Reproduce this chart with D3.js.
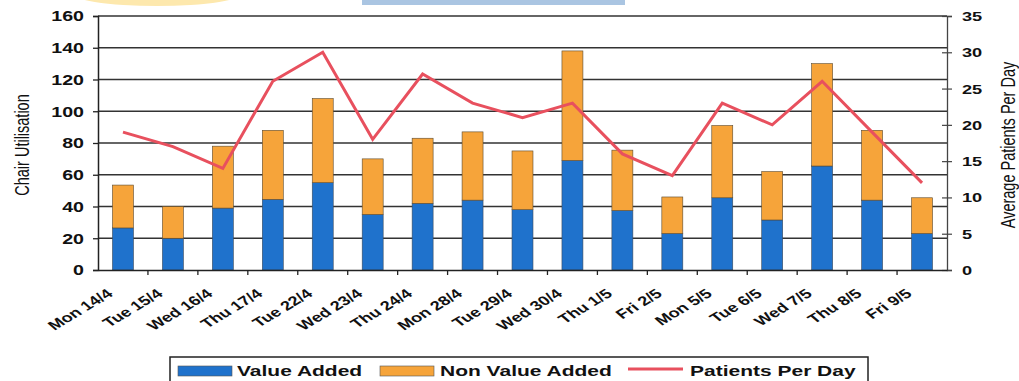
<!DOCTYPE html>
<html>
<head>
<meta charset="utf-8">
<script src="https://cdn.jsdelivr.net/npm/d3@7"></script>
<style>
  body { margin: 0; background: #fff; }
  svg { display: block; }
  text { font-family: "Liberation Sans", Arial, sans-serif; fill: #111; }
</style>
</head>
<body>
<div id="chart"></div>
<script type="text/javascript">
// categories and series
var days = ["Mon 14/4", "Tue 15/4", "Wed 16/4", "Thu 17/4", "Tue 22/4", "Wed 23/4",
            "Thu 24/4", "Mon 28/4", "Tue 29/4", "Wed 30/4", "Thu 1/5", "Fri 2/5",
            "Mon 5/5", "Tue 6/5", "Wed 7/5", "Thu 8/5", "Fri 9/5"];
var valueAdded    = [26.5, 20, 39, 44.5, 55, 35, 42, 44, 38, 69, 37.5, 23, 45.5, 31.5, 65.5, 44, 23];
var nonValueAdded = [27, 20, 39, 43.5, 53, 35, 41, 43, 37, 69, 38, 23, 45.5, 30.5, 64.5, 44, 22.5];
var patientsPerDay = [19, 17, 14, 26, 30, 18, 27, 23, 21, 23, 16, 13, 23, 20, 26, 19, 12];

var leftTicks  = [0, 20, 40, 60, 80, 100, 120, 140, 160];
var rightTicks = [0, 5, 10, 15, 20, 25, 30, 35];

var legendItems = ["Value Added", "Non Value Added", "Patients Per Day"];

function drawChart() {
  var W = 1019, H = 381;
  var margin = {top: 16, right: 72, bottom: 111, left: 98},
      width = W - margin.left - margin.right,
      height = H - margin.top - margin.bottom;
  var SX = 1.4; // the picture's text is stretched sideways

  var blue = "#1f72cc", orange = "#f6a43a", red = "#e8505e";

  var svg = d3.select("#chart").append("svg")
      .attr("width", W)
      .attr("height", H);

  // faint page decorations at the top edge
  svg.append("ellipse").attr("cx", 157).attr("cy", -8).attr("rx", 88).attr("ry", 14)
      .attr("fill", "#fde8ad");
  svg.append("rect").attr("x", 362).attr("y", 0).attr("width", 263).attr("height", 5)
      .attr("fill", "#aac5e2");

  var g = svg.append("g")
      .attr("transform", "translate(" + margin.left + "," + margin.top + ")");

  var x = d3.scaleBand().domain(days).range([0, width])
      .paddingInner(0.58).paddingOuter(0.29);
  var y = d3.scaleLinear().domain([0, 160]).range([height, 0]);
  var y2 = d3.scaleLinear().domain([0, 35]).range([height, 0]);

  // gridlines
  g.append("g").selectAll("line").data(leftTicks.slice(1)).enter().append("line")
      .attr("x1", 0).attr("x2", width)
      .attr("y1", function(d) { return y(d); })
      .attr("y2", function(d) { return y(d); })
      .attr("stroke", "#333").attr("stroke-width", 1.4);

  // stacked bars
  var bw = x.bandwidth();
  g.append("g").selectAll("rect").data(days).enter().append("rect")
      .attr("x", function(d) { return x(d); })
      .attr("width", bw)
      .attr("y", function(d, i) { return y(valueAdded[i]); })
      .attr("height", function(d, i) { return height - y(valueAdded[i]); })
      .attr("fill", blue).attr("stroke", "#3d4a5a").attr("stroke-width", 0.6);
  g.append("g").selectAll("rect").data(days).enter().append("rect")
      .attr("x", function(d) { return x(d); })
      .attr("width", bw)
      .attr("y", function(d, i) { return y(valueAdded[i] + nonValueAdded[i]); })
      .attr("height", function(d, i) { return y(valueAdded[i]) - y(valueAdded[i] + nonValueAdded[i]); })
      .attr("fill", orange).attr("stroke", "#5a4a30").attr("stroke-width", 0.6);

  // patients line
  var line = d3.line()
      .x(function(d, i) { return x(days[i]) + bw / 2; })
      .y(function(d) { return y2(d); });
  g.append("path")
      .datum(patientsPerDay)
      .attr("d", line)
      .attr("fill", "none")
      .attr("stroke", red)
      .attr("stroke-width", 3)
      .attr("stroke-linejoin", "miter");

  // left axis
  var la = g.append("g").call(d3.axisLeft(y).tickValues(leftTicks).tickSize(5));
  la.select(".domain").attr("stroke", "#222").attr("stroke-width", 1.5);
  la.selectAll(".tick line").attr("stroke", "#222").attr("stroke-width", 1.3);
  la.selectAll(".tick text")
      .attr("x", 0).attr("dy", "0.35em")
      .attr("transform", "translate(-14,0) scale(" + SX + ",1)")
      .style("font-size", "14px").style("font-weight", "bold").attr("fill", "#111");

  // right axis
  var ra = g.append("g").attr("transform", "translate(" + width + ",0)")
      .call(d3.axisRight(y2).tickValues(rightTicks).tickSize(5));
  ra.select(".domain").attr("stroke", "#444").attr("stroke-width", 1.3);
  ra.selectAll(".tick line").attr("x1", -5).attr("stroke", "#444").attr("stroke-width", 1.2);
  ra.selectAll(".tick text")
      .attr("x", 0).attr("dy", "0.35em")
      .attr("transform", "translate(15,0) scale(" + SX + ",1)")
      .style("font-size", "13px").style("font-weight", "bold").attr("fill", "#111");

  // bottom axis
  var ba = g.append("g").attr("transform", "translate(0," + height + ")")
      .call(d3.axisBottom(x).tickSize(0));
  ba.select(".domain").attr("stroke", "#222").attr("stroke-width", 1.5);
  ba.selectAll(".tick text")
      .attr("x", 0).attr("y", 0).attr("dy", 0)
      .attr("text-anchor", "end")
      .attr("transform", "translate(-9,25) scale(" + SX + ",1) rotate(-40)")
      .style("font-size", "13px").style("font-weight", "bold").attr("fill", "#111");
  // tick marks between the days
  ba.append("g").selectAll("line").data(days.slice(1)).enter().append("line")
      .attr("x1", function(d) { return x(d) - x.step() * x.paddingInner() / 2; })
      .attr("x2", function(d) { return x(d) - x.step() * x.paddingInner() / 2; })
      .attr("y1", 0).attr("y2", 5)
      .attr("stroke", "#222").attr("stroke-width", 1.3);

  // axis titles
  svg.append("text")
      .attr("transform", "translate(22,145) scale(" + SX + ",1) rotate(-90)")
      .attr("text-anchor", "middle").attr("dominant-baseline", "central")
      .style("font-size", "14.5px")
      .text("Chair Utilisation");
  svg.append("text")
      .attr("transform", "translate(1008,145) scale(" + SX + ",1) rotate(-90)")
      .attr("text-anchor", "middle").attr("dominant-baseline", "central")
      .style("font-size", "14.5px")
      .text("Average Patients Per Day");

  // legend
  var lg = svg.append("g");
  lg.append("rect").attr("x", 170).attr("y", 357).attr("width", 698).attr("height", 40)
      .attr("fill", "#fff").attr("stroke", "#222").attr("stroke-width", 1.5);
  var keyX = [178, 380, 628], textX = [237, 440, 690];
  var keyColor = [blue, orange, red];
  legendItems.forEach(function(name, i) {
    if (i < 2) {
      lg.append("rect").attr("x", keyX[i]).attr("y", 366).attr("width", 54).attr("height", 10)
          .attr("fill", keyColor[i]).attr("stroke", "#555").attr("stroke-width", 0.6);
    } else {
      lg.append("line").attr("x1", keyX[i]).attr("x2", keyX[i] + 55)
          .attr("y1", 369).attr("y2", 369)
          .attr("stroke", red).attr("stroke-width", 3);
    }
    lg.append("text")
        .attr("transform", "translate(" + textX[i] + ",376) scale(" + SX + ",1)")
        .style("font-size", "15px").style("font-weight", "bold")
        .text(name);
  });
}
drawChart();
</script>
</body>
</html>
